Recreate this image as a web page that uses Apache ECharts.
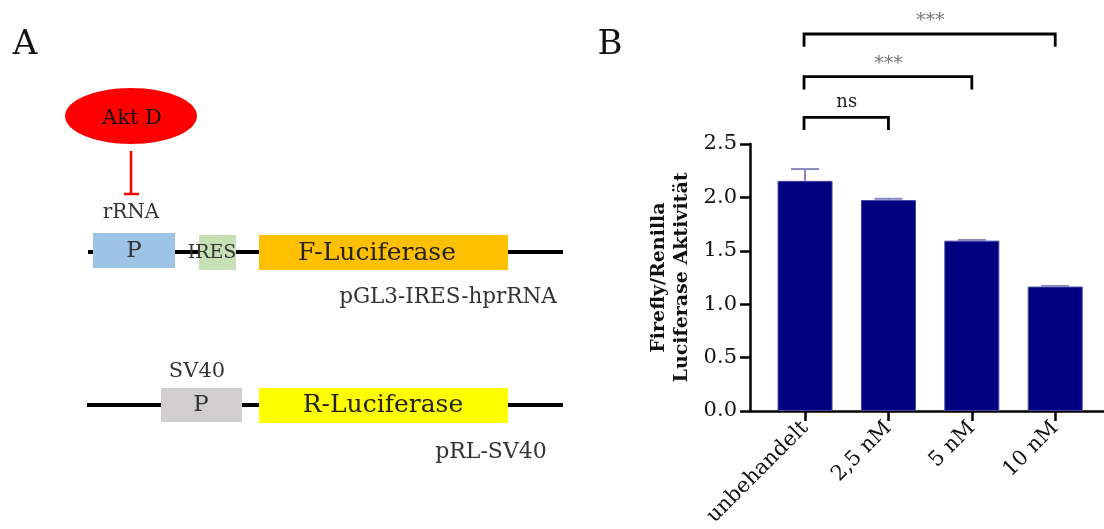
<!DOCTYPE html>
<html>
<head>
<meta charset="utf-8">
<script src="https://cdn.jsdelivr.net/npm/echarts@6/dist/echarts.min.js"></script>
<style>
html, body { margin: 0; padding: 0; background: #fff; }
#main { width: 1104px; height: 529px; }
</style>
</head>
<body>
<div id="main"></div>
<script>
// daten
var categories = ['unbehandelt', '2,5 nM', '5 nM', '10 nM'];
var means = [2.155, 1.975, 1.595, 1.165];
var errors = [0.11, 0.012, 0.006, 0.006];
var yTicks = [0, 0.5, 1.0, 1.5, 2.0, 2.5];
var compFrom = [0, 0, 0];
var compTo = [1, 2, 3];
var compLevel = [2.75, 3.13, 3.53];
var compLabel = ['ns', '***', '***'];

var serif = 'DejaVu Serif';
var chart = echarts.init(document.getElementById('main'), null, { renderer: 'canvas' });

function txt(s, x, y, size, color, weight) {
  return {
    type: 'text', x: x, y: y, z: 10,
    style: {
      text: s, fill: color || '#333', align: 'center', verticalAlign: 'middle',
      font: (weight || 'normal') + ' ' + size + 'px "' + serif + '"'
    }
  };
}
function box(x, y, w, h, color) {
  return { type: 'rect', shape: { x: x, y: y, width: w, height: h }, style: { fill: color }, z: 5 };
}
function seg(x1, y1, x2, y2, color, w) {
  return { type: 'line', shape: { x1: x1, y1: y1, x2: x2, y2: y2 }, style: { stroke: color, lineWidth: w }, z: 4 };
}

// schema links (Teil A)
var diagram = [
  txt('A', 25, 45, 34, '#111'),
  txt('B', 610, 45, 34, '#111'),
  { type: 'ellipse', shape: { cx: 131, cy: 116, rx: 66, ry: 28 }, style: { fill: '#ff0000' }, z: 5 },
  txt('Akt D', 132, 119, 21, '#111'),
  seg(131, 151, 131, 194, '#ff0000', 2.5),
  seg(124, 194, 139, 194, '#ff0000', 2.5),
  txt('rRNA', 131, 213, 20, '#333'),
  seg(88, 252, 563, 252, '#000', 4),
  box(93, 233, 82, 35, '#9dc3e6'),
  txt('P', 134, 251, 23, '#333'),
  box(199, 235, 37, 35, '#c5e0b4'),
  txt('IRES', 212, 253, 19, '#333'),
  box(259, 235, 249, 35, '#ffc000'),
  txt('F-Luciferase', 377, 253, 25, '#222'),
  txt('pGL3-IRES-hprRNA', 448, 297, 21.5, '#333'),
  seg(87, 405, 563, 405, '#000', 4),
  txt('SV40', 197, 372, 21, '#333'),
  box(161, 388, 81, 34, '#d0cece'),
  txt('P', 201, 405, 23, '#333'),
  box(259, 388, 249, 35, '#ffff00'),
  txt('R-Luciferase', 383, 405, 25, '#222'),
  txt('pRL-SV40', 491, 452, 22, '#333')
];

var option = {
  animation: false,
  graphic: diagram,
  grid: { left: 750, right: 0, top: 144, bottom: 118, containLabel: false, outerBoundsMode: 'none' },
  xAxis: {
    type: 'value',
    min: -0.66,
    max: 3.585,
    splitLine: { show: false },
    axisLine: { show: true, onZero: false, lineStyle: { color: '#000', width: 2.5 } },
    axisTick: { show: true, customValues: [0, 1, 2, 3], length: 10, lineStyle: { color: '#000', width: 2.5 } },
    axisLabel: {
      customValues: [0, 1, 2, 3],
      rotate: 45,
      margin: 14,
      color: '#111',
      fontFamily: serif,
      fontSize: 21,
      formatter: function (v) { return categories[Math.round(v)]; }
    }
  },
  yAxis: {
    type: 'value',
    min: 0,
    max: 2.5,
    interval: 0.5,
    splitLine: { show: false },
    axisLine: { show: true, onZero: false, lineStyle: { color: '#000', width: 2.5 } },
    axisTick: { show: true, length: 10, lineStyle: { color: '#000', width: 2.5 } },
    axisLabel: {
      margin: 13,
      color: '#111',
      fontFamily: serif,
      fontSize: 21,
      formatter: function (v) { return v.toFixed(1); }
    },
    name: 'Firefly/Renilla\nLuciferase Aktivität',
    nameLocation: 'middle',
    nameGap: 56,
    nameTextStyle: { fontFamily: serif, fontSize: 19, fontWeight: 'bold', color: '#111', lineHeight: 23 }
  },
  series: [
    {
      type: 'bar',
      barWidth: 55,
      data: means.map(function (m, i) { return [i, m]; }),
      itemStyle: { color: '#000080', borderColor: '#4646a6', borderWidth: 1 }
    },
    {
      type: 'custom',
      z: 5,
      data: means.map(function (m, i) { return [i, m, errors[i]]; }),
      renderItem: function (params, api) {
        var base = api.coord([api.value(0), api.value(1)]);
        var top = api.coord([api.value(0), api.value(1) + api.value(2)]);
        var st = { stroke: '#8787c4', lineWidth: 2 };
        return {
          type: 'group',
          children: [
            { type: 'line', shape: { x1: base[0], y1: base[1], x2: top[0], y2: top[1] }, style: st },
            { type: 'line', shape: { x1: top[0] - 14, y1: top[1], x2: top[0] + 14, y2: top[1] }, style: st }
          ]
        };
      }
    },
    {
      type: 'custom',
      clip: false,
      z: 6,
      data: compFrom.map(function (f, i) { return [f, compTo[i], compLevel[i]]; }),
      renderItem: function (params, api) {
        var a = api.coord([api.value(0), api.value(2)]);
        var b = api.coord([api.value(1), api.value(2)]);
        var leg = api.size([0, 0.12])[1];
        var lab = compLabel[params.dataIndex];
        var isNs = lab === 'ns';
        return {
          type: 'group',
          children: [
            {
              type: 'polyline',
              shape: { points: [[a[0] - 1, a[1] + leg], [a[0] - 1, a[1]], [b[0], b[1]], [b[0], b[1] + leg]] },
              style: { stroke: '#000', lineWidth: 2.8, fill: null }
            },
            {
              type: 'text',
              style: {
                text: lab, x: (a[0] + b[0]) / 2, y: a[1] - (isNs ? 15 : 13),
                align: 'center', verticalAlign: 'middle',
                fill: isNs ? '#222' : '#777',
                font: (isNs ? 18 : 19) + 'px "' + serif + '"'
              }
            }
          ]
        };
      }
    }
  ]
};

chart.setOption(option);
</script>
</body>
</html>
